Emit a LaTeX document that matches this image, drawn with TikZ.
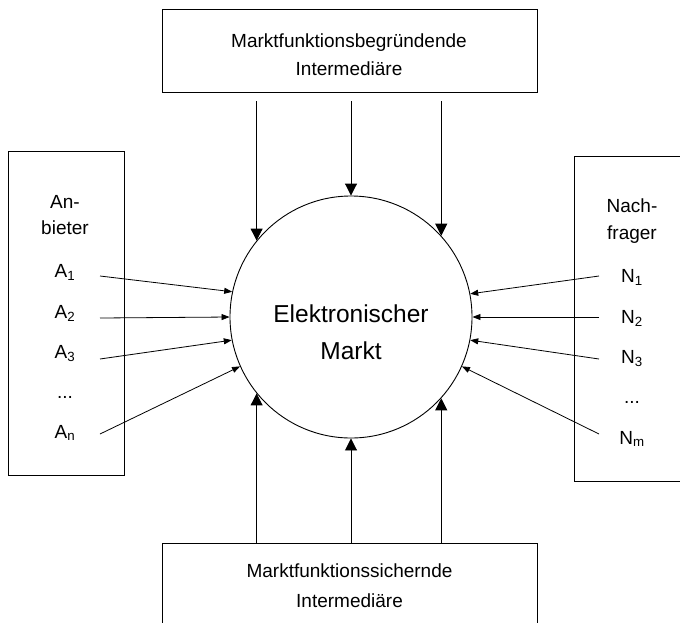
\documentclass[tikz,border=0pt]{standalone}
\usepackage{fontspec}
\setmainfont{Liberation Sans}
\usetikzlibrary{arrows.meta}
\begin{document}
\begin{tikzpicture}[x=1pt,y=-1pt,
  box/.style={draw,line width=0.9pt,inner sep=0pt,anchor=north west},
  lbl/.style={font=\fontsize{19}{23}\selectfont,anchor=base,inner sep=0pt},
  bigarr/.style={line width=0.9pt,-{Triangle[length=12pt,width=12pt]}},
  smallarr/.style={line width=0.8pt,-{Triangle[length=8pt,width=6pt]}}]
\clip (0,0) rectangle (680,622);
% boxes
\node[box,minimum width=375pt,minimum height=83pt] (top) at (162,9) {};
\node[box,minimum width=375pt,minimum height=110pt] (bot) at (162,543) {};
\node[box,minimum width=116pt,minimum height=324pt] (lft) at (8,151) {};
\node[box,minimum width=130pt,minimum height=325pt] (rgt) at (574,156) {};
% circle
\node[draw,circle,minimum size=242pt,line width=0.9pt,inner sep=0pt] (c) at (351,317) {};
\node[font=\fontsize{24.5}{30}\selectfont,anchor=base,inner sep=0pt] (e1) at (351,322) {Elektronischer};
\node[font=\fontsize{24.5}{30}\selectfont,anchor=base,inner sep=0pt] (e2) at (351,359) {Markt};
% box texts
\node[lbl] (tt1) at (349,47) {Marktfunktionsbegründende};
\node[lbl] (tt2) at (349,75) {Intermediäre};
\node[lbl] (bt1) at (349.5,577) {Marktfunktionssichernde};
\node[lbl] (bt2) at (349.5,607) {Intermediäre};
% left labels
\node[lbl] (la) at (65,208) {An-};
\node[lbl] (lb) at (65,234) {bieter};
\node[lbl] (a1) at (65,277) {A\textsubscript{1}};
\node[lbl] (a2) at (65,318) {A\textsubscript{2}};
\node[lbl] (a3) at (65,358) {A\textsubscript{3}};
\node[lbl] (ad) at (65,398) {...};
\node[lbl] (an) at (65,438) {A\textsubscript{n}};
% right labels
\node[lbl] (ra) at (632,212) {Nach-};
\node[lbl] (rb) at (632,239) {frager};
\node[lbl] (n1) at (632,282) {N\textsubscript{1}};
\node[lbl] (n2) at (632,323) {N\textsubscript{2}};
\node[lbl] (n3) at (632,363) {N\textsubscript{3}};
\node[lbl] (nd) at (632,403) {...};
\node[lbl] (nm) at (632,444) {N\textsubscript{m}};
% start points
\coordinate (ts) at (0,101);
\coordinate (a1s) at (100,276);
\coordinate (a2s) at (100,318);
\coordinate (a3s) at (100,359);
\coordinate (ans) at (100,434);
\coordinate (n1s) at (599,276);
\coordinate (n2s) at (599,317);
\coordinate (n3s) at (599,359);
\coordinate (nms) at (599,434);
% vertical arrows
\draw[bigarr] (c.141 |- ts) -- (c.141);
\draw[bigarr] (c.north |- ts) -- (c.north);
\draw[bigarr] (c.42 |- ts) -- (c.42);
\draw[bigarr] (c.219 |- bot.north) -- (c.219);
\draw[bigarr] (c.south |- bot.north) -- (c.south);
\draw[bigarr] (c.318 |- bot.north) -- (c.318);
% horizontal arrows
\draw[smallarr] (a1s) -- (c.168.7);
\draw[smallarr] (a2s) -- (c.180);
\draw[smallarr] (a3s) -- (c.191.8);
\draw[smallarr] (ans) -- (c.204.5);
\draw[smallarr] (n1s) -- (c.11.7);
\draw[smallarr] (n2s) -- (c.0);
\draw[smallarr] (n3s) -- (c.-11.5);
\draw[smallarr] (nms) -- (c.-24);
\end{tikzpicture}
\end{document}
